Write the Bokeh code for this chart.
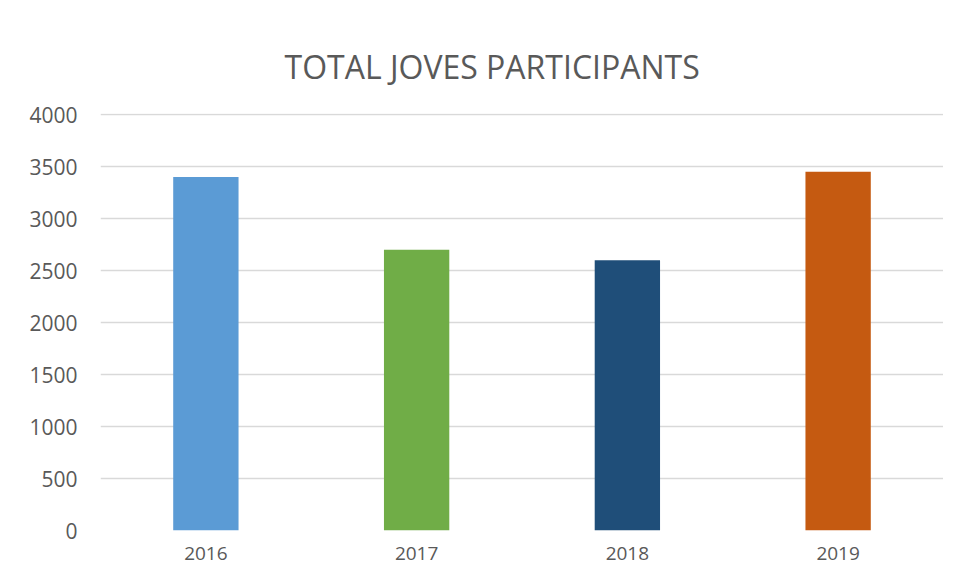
from bokeh.plotting import figure
from bokeh.models import FixedTicker, Range1d, ColumnDataSource
from bokeh.embed import file_html
from bokeh.resources import INLINE

years = ["2016", "2017", "2018", "2019"]
participants = [3400, 2700, 2600, 3450]
colors = ["#5B9BD5", "#70AD47", "#1F4E79", "#C55A11"]
y_ticks = [0, 500, 1000, 1500, 2000, 2500, 3000, 3500, 4000]

src = ColumnDataSource(dict(year=years, value=participants, color=colors))

p = figure(x_range=years, y_range=Range1d(0, 4010), width=943, height=567,
           output_backend="svg", toolbar_location=None,
           min_border_left=100, min_border_right=0, min_border_bottom=37, min_border_top=113)
p.vbar(x="year", top="value", width=0.31, color="color", source=src, line_color=None)

p.title.text = "TOTAL JOVES PARTICIPANTS"
p.title.align = "left"
p.title.offset = 184
p.title.text_font = "Open Sans"
p.title.text_font_size = "32px"
p.title.text_font_style = "normal"
p.title.text_color = "#595959"
p.title.standoff = 52

p.outline_line_color = None
p.xgrid.grid_line_color = None
p.ygrid.grid_line_color = "#d9d9d9"
p.ygrid.grid_line_width = 1.5
p.yaxis.ticker = FixedTicker(ticks=y_ticks)
p.x_range.range_padding = 0

for ax in (p.xaxis, p.yaxis):
    ax.axis_line_color = None
    ax.major_tick_line_color = None
    ax.minor_tick_line_color = None
    ax.major_label_text_font = "Open Sans"
    ax.major_label_text_font_size = "21px"
    ax.major_label_text_color = "#595959"
p.xaxis.major_label_text_font_size = "19px"
p.yaxis.major_label_standoff = 17
p.xaxis.major_label_standoff = 10

open("out.html", "w").write(file_html(p, INLINE))
